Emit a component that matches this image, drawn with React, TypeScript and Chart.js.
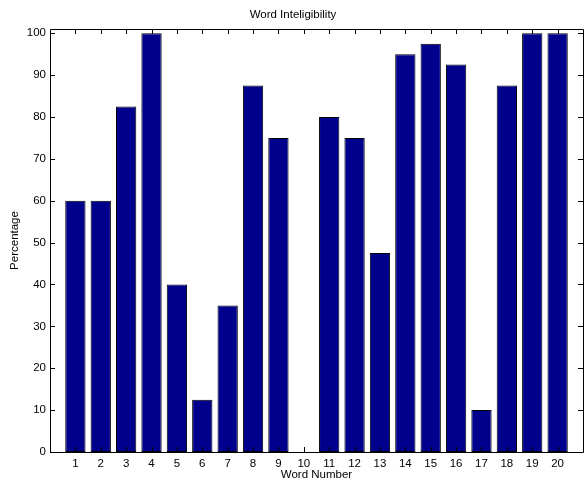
import React, { useEffect, useRef } from "react";
import { Chart, registerables } from "chart.js";

Chart.register(...registerables);

const words: number[] = [1, 2, 3, 4, 5, 6, 7, 8, 9, 10, 11, 12, 13, 14, 15, 16, 17, 18, 19, 20];
const percentages: number[] = [60, 60, 82.5, 100, 40, 12.5, 35, 87.5, 75, 0, 80, 75, 47.5, 95, 97.5, 92.5, 10, 87.5, 100, 100];
const yTicks: number[] = [0, 10, 20, 30, 40, 50, 60, 70, 80, 90, 100];

const FONT = "'Liberation Sans', Arial, Helvetica, sans-serif";

const boxPlugin = {
  id: "matlabBox",
  afterDraw(chart: any) {
    const { ctx, chartArea } = chart;
    const { left, right, top, bottom } = chartArea;
    const xs = chart.scales.x;
    const ys = chart.scales.y;
    const L = 5;
    ctx.save();
    ctx.strokeStyle = "#000";
    ctx.lineWidth = 1;
    ctx.beginPath();
    ctx.rect(Math.round(left) + 0.5, Math.round(top) + 0.5, Math.round(right - left), Math.round(bottom - top));
    ctx.stroke();
    ctx.beginPath();
    for (const w of words) {
      const px = Math.round(xs.getPixelForValue(w)) + 0.5;
      ctx.moveTo(px, bottom);
      ctx.lineTo(px, bottom - L);
      ctx.moveTo(px, top);
      ctx.lineTo(px, top + L);
    }
    for (const v of yTicks) {
      const py = Math.round(ys.getPixelForValue(v)) + 0.5;
      ctx.moveTo(left, py);
      ctx.lineTo(left + L, py);
      ctx.moveTo(right, py);
      ctx.lineTo(right - L, py);
    }
    ctx.stroke();
    ctx.restore();
  },
};

export default function App() {
  const ref = useRef<HTMLCanvasElement | null>(null);
  useEffect(() => {
    document.body.style.margin = "0";
    const canvas = ref.current;
    if (!canvas) return;
    const chart = new Chart(canvas, {
      type: "bar",
      data: {
        datasets: [
          {
            label: "Percentage",
            data: words.map((w, i) => ({ x: w, y: percentages[i] })),
            backgroundColor: "rgb(0,0,140)",
            borderColor: "#000",
            borderWidth: 1,
            borderSkipped: false,
            categoryPercentage: 1,
            barPercentage: 0.8,
          },
        ],
      },
      options: {
        responsive: false,
        animation: false,
        devicePixelRatio: 1,
        layout: { padding: { top: 0, right: 2, bottom: 0, left: 0 } },
        plugins: {
          legend: { display: false },
          tooltip: { enabled: false },
          title: {
            display: true,
            text: "Word Inteligibility",
            color: "#000",
            font: { family: FONT, size: 11.5, weight: "normal", lineHeight: 1.2 },
            padding: { top: 7.5, bottom: 7.7 },
          },
        },
        scales: {
          x: {
            type: "linear",
            min: 0,
            max: 21,
            offset: false,
            grid: { display: false, drawTicks: false },
            border: { display: false },
            ticks: {
              stepSize: 1,
              autoSkip: false,
              maxRotation: 0,
              includeBounds: false,
              padding: 5,
              color: "#000",
              font: { family: FONT, size: 11.5 },
              callback: (v: any) => (v >= 1 && v <= 20 ? String(v) : ""),
            },
            title: {
              display: true,
              text: "Word Number",
              color: "#000",
              font: { family: FONT, size: 11.5, lineHeight: 1 },
              padding: { top: 0, bottom: 0 },
            },
            afterFit: (s: any) => {
              s.height = 29;
            },
          },
          y: {
            type: "linear",
            min: 0,
            max: 101,
            grid: { display: false, drawTicks: false },
            border: { display: false },
            ticks: {
              stepSize: 10,
              includeBounds: false,
              padding: 4,
              color: "#000",
              font: { family: FONT, size: 11.5 },
            },
            title: {
              display: true,
              text: "Percentage",
              color: "#000",
              font: { family: FONT, size: 11.5, lineHeight: 1.2 },
              padding: { top: 8.4, bottom: 0 },
            },
            afterFit: (s: any) => {
              s.width = 50;
            },
          },
        },
      },
      plugins: [boxPlugin],
    });
    return () => chart.destroy();
  }, []);
  return <canvas ref={ref} width={588} height={481} style={{ display: "block" }} />;
}
